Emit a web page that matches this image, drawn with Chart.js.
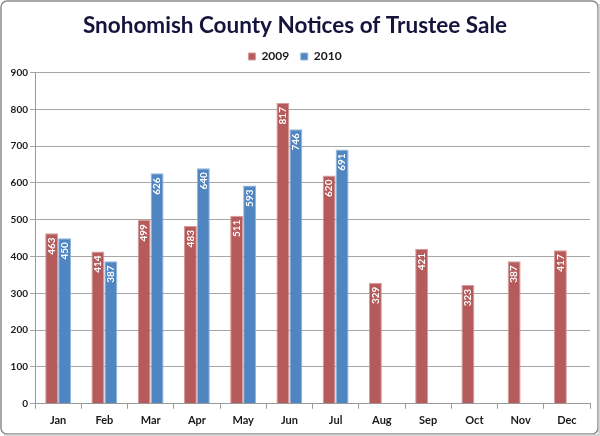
<!DOCTYPE html>
<html>
<head>
<meta charset="utf-8">
<script src="https://cdn.jsdelivr.net/npm/chart.js@4/dist/chart.umd.min.js"></script>
<style>
    html, body { margin: 0; padding: 0; background: #fff; }
    #wrap { width: 600px; height: 436px; position: relative; }
</style>
</head>
<body>
<div id="wrap"><canvas id="myChart" width="600" height="436"></canvas></div>
<script>
const months = ['Jan', 'Feb', 'Mar', 'Apr', 'May', 'Jun', 'Jul', 'Aug', 'Sep', 'Oct', 'Nov', 'Dec'];
const sales2009 = [463, 414, 499, 483, 511, 817, 620, 329, 421, 323, 387, 417];
const sales2010 = [450, 387, 626, 640, 593, 746, 691, null, null, null, null, null];
const yTicks = [0, 100, 200, 300, 400, 500, 600, 700, 800, 900];

const fontName = 'Lato, "Open Sans", sans-serif';

// grey rounded frame round the whole picture
const frame = {
    id: 'frame',
    beforeDraw(chart) {
        const ctx = chart.ctx;
        ctx.save();
        ctx.fillStyle = '#ffffff';
        ctx.fillRect(0, 0, chart.width, chart.height);
        ctx.strokeStyle = '#8c8c8c';
        ctx.lineWidth = 1.5;
        ctx.beginPath();
        ctx.roundRect(1, 1, chart.width - 3, chart.height - 3, 6);
        ctx.stroke();
        ctx.strokeStyle = '#c8c8c8';
        ctx.beginPath();
        ctx.moveTo(4, chart.height - 1);
        ctx.lineTo(chart.width - 1, chart.height - 1);
        ctx.lineTo(chart.width - 1, 4);
        ctx.stroke();
        ctx.restore();
    }
};

// rotated white value labels inside the top of each bar
const barLabels = {
    id: 'barLabels',
    afterDatasetsDraw(chart) {
        const ctx = chart.ctx;
        ctx.save();
        ctx.fillStyle = '#ffffff';
        ctx.font = 'bold 10px ' + fontName;
        ctx.textAlign = 'right';
        ctx.textBaseline = 'middle';
        chart.data.datasets.forEach((ds, i) => {
            chart.getDatasetMeta(i).data.forEach((bar, j) => {
                const v = ds.data[j];
                if (v === null || v === undefined) return;
                ctx.save();
                ctx.translate(bar.x, bar.y + 4);
                ctx.rotate(-Math.PI / 2);
                ctx.fillText(String(v), 0, 0);
                ctx.restore();
            });
        });
        ctx.restore();
    }
};

new Chart(document.getElementById('myChart'), {
    type: 'bar',
    data: {
        labels: months,
        datasets: [
            {
                label: '2009',
                data: sales2009,
                backgroundColor: '#b65b5b',
                borderColor: '#d99a9a',
                borderWidth: 1
            },
            {
                label: '2010',
                data: sales2010,
                backgroundColor: '#4f86c1',
                borderColor: '#92b6dc',
                borderWidth: 1
            }
        ]
    },
    options: {
        responsive: false,
        animation: false,
        categoryPercentage: 0.56,
        barPercentage: 1,
        layout: { padding: { left: 0, right: 10, top: 0, bottom: 4 } },
        plugins: {
            title: {
                display: true,
                text: 'Snohomish County Notices of Trustee Sale',
                color: '#14143c',
                font: { family: fontName, size: 22.5, weight: 'bold' },
                padding: { top: 12, bottom: 0 }
            },
            legend: {
                display: true,
                labels: {
                    color: '#1a1a1a',
                    font: { family: fontName, size: 12, weight: 'bold' },
                    boxWidth: 7,
                    boxHeight: 7,
                    padding: 11.5
                }
            },
            tooltip: { enabled: false }
        },
        scales: {
            x: {
                grid: {
                    offset: true,
                    drawOnChartArea: false,
                    drawTicks: true,
                    tickLength: 5,
                    color: '#9a9a9a'
                },
                border: { color: '#9a9a9a' },
                ticks: {
                    color: '#1a1a1a',
                    font: { family: fontName, size: 11, weight: 'bold' },
                    padding: 5
                }
            },
            y: {
                min: 0,
                max: 900,
                afterBuildTicks(scale) {
                    scale.ticks = yTicks.map(v => ({ value: v }));
                },
                afterFit(scale) {
                    scale.width = 35;
                },
                grid: {
                    color: '#a6a6a6',
                    tickLength: 5
                },
                border: { color: '#9a9a9a' },
                ticks: {
                    color: '#1a1a1a',
                    font: { family: fontName, size: 10, weight: 'bold' },
                    padding: 2
                }
            }
        }
    },
    plugins: [frame, barLabels]
});
</script>
</body>
</html>
